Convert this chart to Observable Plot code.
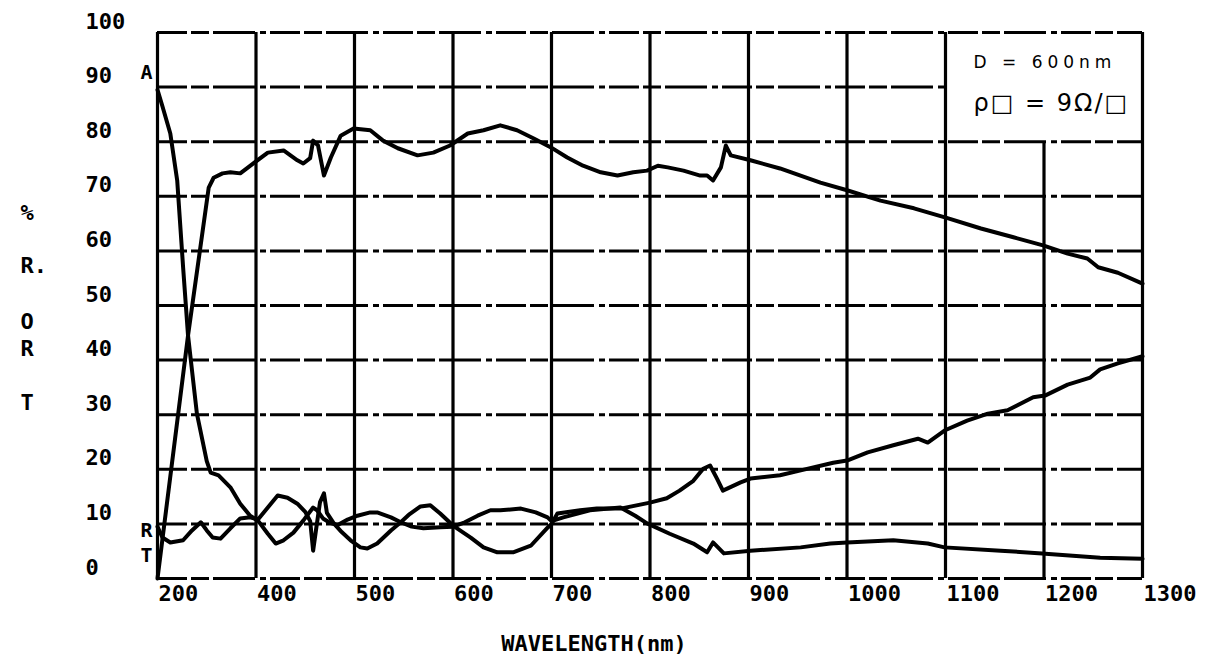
<!DOCTYPE html>
<html>
<head>
<meta charset="utf-8">
<script src="https://cdn.jsdelivr.net/npm/d3@7"></script>
<script src="https://cdn.jsdelivr.net/npm/@observablehq/plot@0.6"></script>
<style>
  html, body { margin: 0; padding: 0; background: #fff; overflow: hidden; }
  #chart svg { display: block; }
</style>
</head>
<body>
<div id="chart"></div>
<script>
// Spectral response of a D = 600 nm film: transmission T, reflection R, absorption A (%)

// Transmission T
const tWave = [300, 331, 352, 357, 366, 374, 384, 397, 412, 428, 442, 448, 455, 458, 463, 469, 476, 486, 499, 516, 529, 544, 564, 580, 597, 615, 631, 648, 665, 682, 699, 716, 732, 750, 767, 783, 797, 808, 818, 834, 851, 858, 864, 872, 877, 882, 902, 932, 973, 1000, 1034, 1068, 1102, 1136, 1169, 1199, 1224, 1244, 1255, 1275, 1300];
const tValue = [0, 44.5, 71.6, 73.4, 74.2, 74.4, 74.2, 76.0, 78.0, 78.4, 76.6, 76.0, 77.0, 80.2, 79.3, 73.8, 77.1, 81.1, 82.4, 82.1, 80.2, 78.8, 77.5, 78.0, 79.3, 81.5, 82.1, 83.0, 82.1, 80.6, 79.0, 77.1, 75.6, 74.4, 73.8, 74.4, 74.7, 75.6, 75.3, 74.7, 73.8, 73.8, 72.9, 75.3, 79.3, 77.5, 76.6, 75.1, 72.5, 71.1, 69.2, 67.8, 66.0, 64.1, 62.5, 61.0, 59.5, 58.6, 57.0, 56.0, 54.0];

// Reflection R
const rWave = [300, 305, 313, 326, 335, 344, 350, 356, 364, 374, 384, 394, 402, 412, 422, 432, 442, 450, 455, 458, 461, 465, 469, 472, 479, 487, 496, 506, 513, 523, 537, 547, 556, 567, 577, 587, 600, 618, 631, 645, 661, 679, 696, 700, 706, 729, 746, 770, 800, 817, 830, 844, 854, 861, 868, 874, 892, 902, 932, 953, 986, 1000, 1021, 1047, 1072, 1082, 1099, 1122, 1143, 1163, 1189, 1201, 1224, 1247, 1257, 1275, 1300];
const rValue = [9.5, 7.5, 6.6, 7.0, 8.8, 10.3, 8.8, 7.5, 7.3, 9.2, 11.0, 11.2, 10.8, 13.0, 15.2, 14.8, 13.7, 12.2, 10.5, 5.1, 9.0, 14.0, 15.6, 12.0, 10.1, 8.5, 7.0, 5.7, 5.5, 6.4, 8.8, 10.3, 11.8, 13.2, 13.4, 11.9, 9.7, 7.5, 5.7, 4.8, 4.8, 6.0, 9.3, 10.0, 11.9, 12.5, 12.8, 12.8, 13.9, 14.7, 16.1, 17.9, 20.1, 20.7, 18.3, 16.1, 17.6, 18.3, 18.9, 19.8, 21.2, 21.6, 23.1, 24.4, 25.6, 24.9, 27.1, 28.9, 30.2, 30.8, 33.2, 33.5, 35.5, 36.8, 38.3, 39.4, 40.7];

// Absorption A
const aWave = [300, 305, 313, 320, 326, 331, 340, 350, 354, 362, 374, 384, 394, 402, 412, 420, 428, 438, 448, 453, 458, 462, 468, 475, 483, 493, 503, 516, 523, 537, 547, 558, 570, 587, 600, 612, 625, 638, 648, 669, 684, 696, 700, 712, 739, 770, 785, 797, 820, 844, 858, 864, 875, 902, 953, 983, 1000, 1047, 1082, 1099, 1156, 1198, 1257, 1300];
const aValue = [89.5, 86.5, 81.5, 72.9, 57.0, 44.5, 30.2, 21.5, 19.4, 18.9, 16.7, 13.7, 11.5, 10.6, 8.2, 6.4, 7.0, 8.4, 10.6, 11.8, 13.0, 12.5, 11.0, 10.2, 9.8, 10.8, 11.5, 12.1, 12.1, 11.2, 10.3, 9.5, 9.2, 9.4, 9.5, 10.3, 11.5, 12.5, 12.5, 12.8, 12.1, 11.2, 10.5, 11.2, 12.5, 13.0, 11.5, 10.1, 8.2, 6.4, 4.8, 6.6, 4.6, 5.1, 5.7, 6.4, 6.6, 7.0, 6.4, 5.7, 5.1, 4.6, 3.8, 3.6];

// Axes
const xTicks = [300, 400, 500, 600, 700, 800, 900, 1000, 1100, 1200, 1300];
const xTickLabels = ["200", "400", "500", "600", "700", "800", "900", "1000", "1100", "1200", "1300"];
const yTicks = [0, 10, 20, 30, 40, 50, 60, 70, 80, 90, 100];
const xTitle = "WAVELENGTH(nm)";
const yTitleLetters = ["%", "R.", "O", "R", "T"];
const yTitleLevels = [67, 57.3, 46.9, 42.1, 32.2];

// Curve labels at the short-wavelength end
const seriesNames = ["A", "R", "T"];
const seriesLabelLevels = [92.7, 8.8, 4.2];

// Sample parameters written in the upper-right box
const noteLines = ["D = 600nm", "ρ□ = 9Ω/□"];
const noteLevels = [94.5, 87];
const noteSizes = [17, 24];
const noteSpacing = ["5px", "2px"];

const toRows = (w, v) => w.map((x, i) => ({w: x, v: v[i]}));
const tData = toRows(tWave, tValue);
const rData = toRows(rWave, rValue);
const aData = toRows(aWave, aValue);

const xMin = xTicks[0], xMax = xTicks[xTicks.length - 1];
const yMax = yTicks[yTicks.length - 1];
// the note box occupies 1100–1300 nm, 80–100 %
const boxLeft = 1100, boxBottom = 80;

const hGrid = yTicks.map(y => ({y, x1: xMin, x2: (y > boxBottom && y < yMax) ? boxLeft : xMax}));
const vGrid = xTicks.map(x => ({x, y1: 0, y2: (x > boxLeft && x < xMax) ? boxBottom : yMax}));

const xLabel = new Map(xTicks.map((t, i) => [t, xTickLabels[i]]));
const yTitle = yTitleLetters.map((t, i) => ({t, y: yTitleLevels[i]}));
const seriesLabels = seriesNames.map((t, i) => ({t, x: xMin, y: seriesLabelLevels[i]}));
const notes = noteLines.map((t, i) => ({t, y: noteLevels[i], size: noteSizes[i]}));

const mono = "'DejaVu Sans Mono', monospace";
const ink = "#000";
const curve = {x: "w", y: "v", stroke: ink, strokeWidth: 4, strokeLinejoin: "round", strokeLinecap: "round"};

const chart = Plot.plot({
  width: 1217,
  height: 666,
  marginLeft: 157,
  marginRight: 75,
  marginTop: 32,
  marginBottom: 88,
  x: {domain: [xMin, xMax]},
  y: {domain: [0, yMax]},
  style: {background: "#fff", color: ink, fontFamily: mono},
  marks: [
    // dashed horizontal grid
    Plot.ruleY(hGrid, {y: "y", x1: "x1", x2: "x2", stroke: ink, strokeWidth: 3, strokeDasharray: "30 4 18 4 42 5 6 4"}),
    // solid vertical grid
    Plot.ruleX(vGrid, {x: "x", y1: "y1", y2: "y2", stroke: ink, strokeWidth: 3.2}),
    // curves
    Plot.line(tData, curve),
    Plot.line(rData, curve),
    Plot.line(aData, curve),
    // tick labels
    Plot.axisX({ticks: xTicks, tickSize: 0, tickPadding: 0, textAnchor: "start", dx: 1, dy: 7,
      tickFormat: d => xLabel.get(d), fontSize: 22, fontWeight: "bold", label: null}),
    Plot.axisY({ticks: yTicks, tickSize: 0, tickPadding: 0, textAnchor: "start", dx: -72, dy: -11,
      tickFormat: d => String(d), fontSize: 22, fontWeight: "bold", label: null}),
    // axis titles
    Plot.text([xTitle], {frameAnchor: "bottom", text: d => d, dx: -56, dy: 72, fontSize: 22, fontWeight: "bold"}),
    Plot.text(yTitle, {y: "y", frameAnchor: "left", text: "t", dx: -137, fontSize: 22, fontWeight: "bold"}),
    // curve labels
    Plot.text(seriesLabels, {x: "x", y: "y", text: "t", dx: -11, fontSize: 20, fontWeight: "bold"}),
    // handwritten note, one line per mark
    ...notes.map(n => Plot.text([n], {x: boxLeft, y: "y", text: "t", textAnchor: "start", dx: 28,
      fontSize: n.size, fontFamily: "'DejaVu Sans', sans-serif", fontWeight: "normal"}))
  ]
});

// the note is written with wide letter spacing
d3.select(chart).selectAll("text").each(function() {
  const i = noteLines.indexOf(this.textContent);
  if (i >= 0) this.style.letterSpacing = noteSpacing[i];
});

document.getElementById("chart").appendChild(chart);
</script>
</body>
</html>
